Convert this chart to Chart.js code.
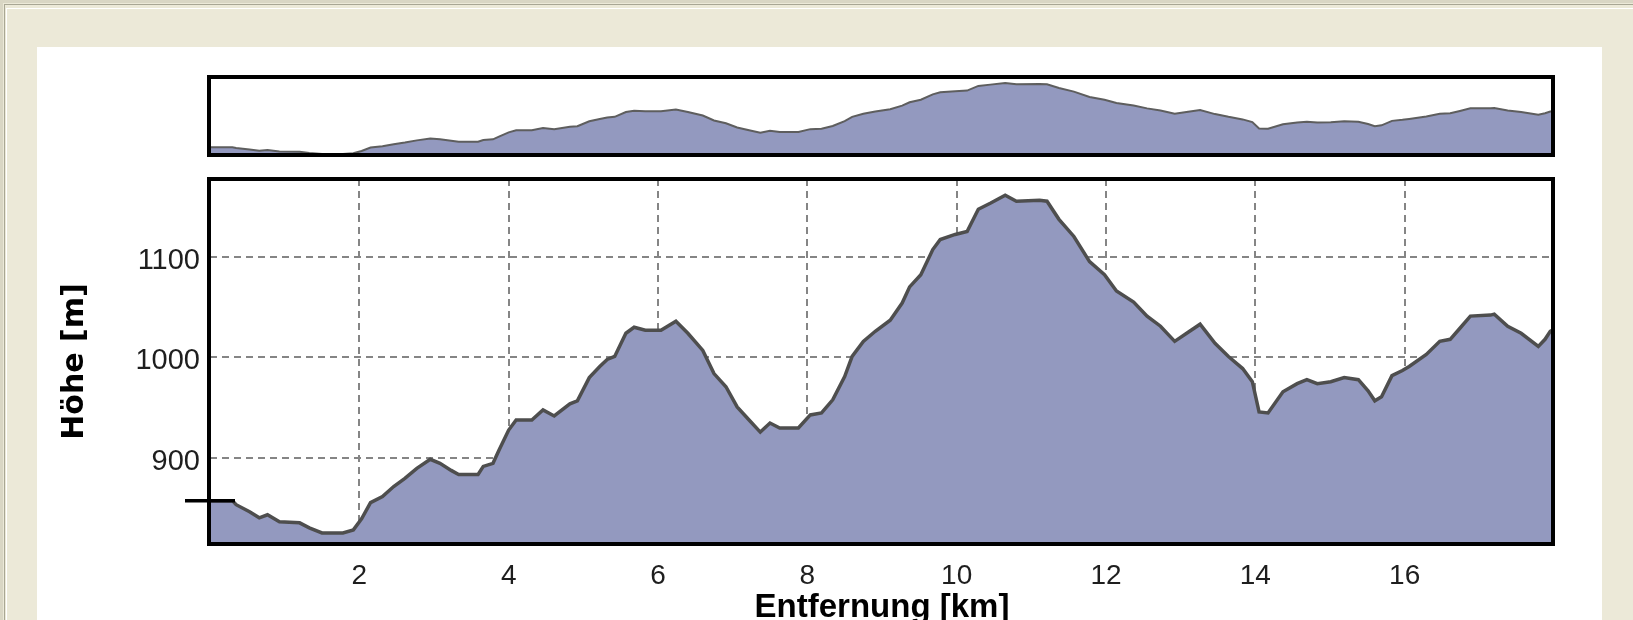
<!DOCTYPE html>
<html>
<head>
<meta charset="utf-8">
<script src="https://cdn.jsdelivr.net/npm/chart.js@4.4.1/dist/chart.umd.min.js"></script>
<style>
  html, body { margin:0; padding:0; width:1633px; height:620px; overflow:hidden; background:#ECE9D8; }
  .abs { position:absolute; }
  canvas { position:absolute; left:0; top:0; }
</style>
</head>
<body>
<div class="abs" style="left:0;top:0;width:1633px;height:3px;background:#d9d6c4"></div>
<div class="abs" style="left:0;top:0;width:3px;height:620px;background:#d9d6c4"></div>
<div class="abs" style="left:4px;top:4px;width:1629px;height:1px;background:#a8a694"></div>
<div class="abs" style="left:4px;top:4px;width:1px;height:616px;background:#a8a694"></div>
<div class="abs" style="left:6px;top:8px;width:1627px;height:1px;background:#ffffff"></div>
<div class="abs" style="left:6px;top:8px;width:1px;height:612px;background:#ffffff"></div>
<div class="abs" style="left:37px;top:47px;width:1565px;height:573px;background:#ffffff"></div>
<canvas id="overview" width="1633" height="620"></canvas>
<canvas id="main" width="1633" height="620"></canvas>
<script>
// ---- data (distance in km, elevation in m) ----
const distanceKm = [0.00,0.30,0.35,0.53,0.66,0.77,0.93,1.20,1.33,1.50,1.78,1.92,2.03,2.15,2.31,2.46,2.61,2.77,2.95,3.08,
  3.23,3.33,3.59,3.66,3.79,3.87,4.00,4.10,4.31,4.46,4.61,4.82,4.92,5.08,5.22,5.32,5.42,5.57,5.68,5.83,
  6.04,6.24,6.40,6.60,6.75,6.91,7.06,7.22,7.37,7.50,7.63,7.88,8.04,8.19,8.34,8.50,8.60,8.75,8.91,9.11,
  9.27,9.37,9.52,9.68,9.78,9.98,10.14,10.29,10.45,10.65,10.80,11.11,11.21,11.37,11.57,11.78,11.98,12.14,12.37,12.55,
  12.73,12.92,13.10,13.26,13.46,13.64,13.83,13.96,14.05,14.17,14.37,14.56,14.69,14.83,15.01,15.19,15.38,15.51,15.60,15.69,
  15.83,15.97,16.06,16.29,16.47,16.61,16.74,16.88,17.15,17.20,17.38,17.56,17.79,17.88,17.95,18.00];
const elevationM = [858,858,854,847,841,844,837,836,831,826,826,829,840,856,862,872,880,890,899,895,
  888,884,884,892,895,908,928,938,938,948,942,954,957,980,991,998,1001,1024,1030,1027,
  1027,1036,1024,1007,984,971,951,938,926,935,930,930,943,945,958,981,1001,1016,1026,1037,
  1054,1070,1082,1107,1117,1122,1125,1147,1153,1161,1155,1156,1155,1137,1120,1095,1082,1066,1055,1041,
  1031,1016,1025,1033,1014,1001,989,976,946,945,966,974,978,974,976,980,978,967,957,961,
  982,987,991,1003,1016,1018,1029,1041,1042,1043,1031,1024,1011,1018,1026,1028];
const xTickValues = [2,4,6,8,10,12,14,16];
const yTickValues = [900,1000,1100];
const xTitle = 'Entfernung [km]';
const yTitle = 'Höhe [m]';

const points = distanceKm.map((d, i) => ({x: d, y: elevationM[i]}));
const FILL = '#9399bf';

const boxPlugin = {
  id: 'box',
  afterDraw(chart) {
    const a = chart.chartArea, ctx = chart.ctx;
    ctx.save();
    ctx.strokeStyle = '#000';
    ctx.lineWidth = 4;
    ctx.strokeRect(a.left - 1, a.top, a.right - a.left, a.bottom - a.top);
    ctx.restore();
  }
};
const startMarker = {
  id: 'startMarker',
  afterDraw(chart) {
    const ctx = chart.ctx;
    const y = chart.scales.y.getPixelForValue(elevationM[0]);
    const x0 = chart.scales.x.getPixelForValue(distanceKm[0]);
    ctx.save();
    ctx.strokeStyle = '#000';
    ctx.lineWidth = 3.5;
    ctx.beginPath();
    ctx.moveTo(x0 - 25, y);
    ctx.lineTo(x0 + 25, y);
    ctx.stroke();
    ctx.restore();
  }
};

// Overview chart
new Chart(document.getElementById('overview'), {
  type: 'line',
  data: { datasets: [{ data: points, borderColor: '#5e5e5e', borderWidth: 2, backgroundColor: FILL,
    fill: 'start', pointRadius: 0, tension: 0 }] },
  options: {
    responsive: false, animation: false, devicePixelRatio: 1,
    layout: { padding: { left: 210, right: 79, top: 77, bottom: 465 } },
    plugins: { legend: { display: false }, tooltip: { enabled: false } },
    scales: {
      x: { type: 'linear', min: 0, max: 18, display: false },
      y: { type: 'linear', min: 821, max: 1189, display: false }
    }
  },
  plugins: [boxPlugin]
});

// Main chart
new Chart(document.getElementById('main'), {
  type: 'line',
  data: { datasets: [{ data: points, borderColor: '#4e4e4e', borderWidth: 3.5, backgroundColor: FILL,
    fill: 'start', pointRadius: 0, tension: 0 }] },
  options: {
    responsive: false, animation: false, devicePixelRatio: 1,
    layout: { padding: { left: 0, right: 79, top: 179, bottom: 0 } },
    plugins: { legend: { display: false }, tooltip: { enabled: false } },
    scales: {
      x: {
        type: 'linear', min: 0, max: 18, z: 1,
        afterFit(s) { s.height = 76; },
        afterBuildTicks(s) { s.ticks = xTickValues.map(v => ({value: v})); },
        grid: { color: '#858585', lineWidth: 2, drawTicks: false },
        border: { display: false, dash: [7, 5] },
        ticks: { color: '#1e1e1e', padding: 15, maxRotation: 0, autoSkip: false,
          callback: v => String(v),
          font: { family: 'Liberation Sans', size: 28 } },
        title: { display: true, text: xTitle, color: '#000', padding: { top: 0, bottom: -8 },
          font: { family: 'Liberation Sans', size: 33, weight: 'bold', lineHeight: 1.2 } }
      },
      y: {
        type: 'linear', min: 815, max: 1177, z: 1,
        afterFit(s) { s.width = 210; },
        afterBuildTicks(s) { s.ticks = yTickValues.map(v => ({value: v})); },
        grid: { color: '#858585', lineWidth: 2, drawTicks: false },
        border: { display: false, dash: [7, 5] },
        ticks: { color: '#1e1e1e', padding: 10, labelOffset: 4, autoSkip: false,
          callback: v => String(v),
          font: { family: 'Liberation Sans', size: 29 } },
        title: { display: true, text: yTitle, color: '#000', padding: { top: 57, bottom: 0 },
          font: { family: 'DejaVu Sans', size: 30, weight: 'bold', lineHeight: 1.2 } }
      }
    }
  },
  plugins: [boxPlugin, startMarker]
});
</script>
</body>
</html>
